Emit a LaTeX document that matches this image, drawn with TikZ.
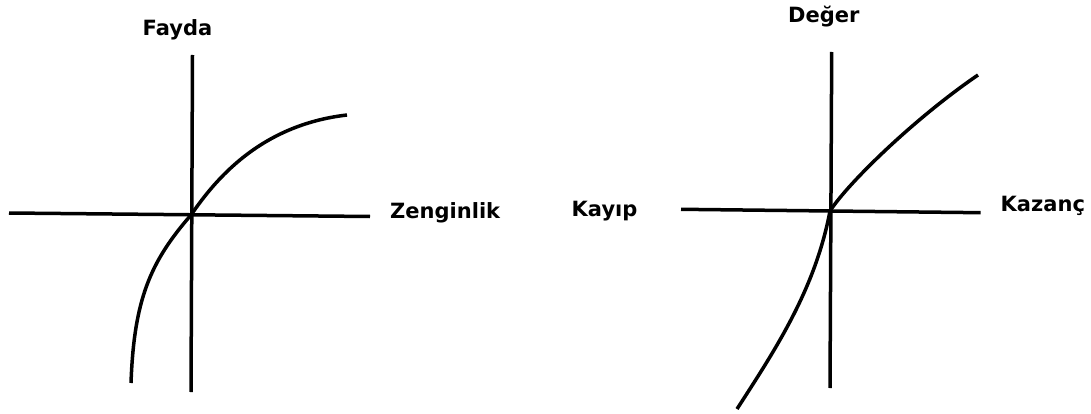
\documentclass[tikz,border=0pt]{standalone}
\usepackage{fontspec}
\setmainfont{DejaVu Sans}
\begin{document}
\begin{tikzpicture}[x=1pt,y=-1pt,
  axis/.style={line width=3.5pt},
  curve/.style={line width=3.5pt,line join=round},
  lbl/.style={anchor=base west,inner sep=0pt,font=\fontsize{21}{25}\selectfont\bfseries}]
\useasboundingbox (0,0) rectangle (1091,414);

% Utility of wealth
\coordinate (uTop) at (192.5,55);
\coordinate (uBot) at (191,392);
\coordinate (uLeft) at (9,213);
\coordinate (uRight) at (370,216.5);
\coordinate (uO) at (191,215);
\coordinate (uS) at (131,383);
\coordinate (uE) at (347,115);
\draw[axis] (uTop) -- (uBot);
\draw[axis] (uLeft) -- (uRight);
\draw[curve] (uS) .. controls (134,300) and (150,262) .. (uO)
                  .. controls (215,180) and (260,125) .. (uE);
\node[lbl] (fayda) at (142.5,36) {Fayda};
\node[lbl] (zengin) at (390,218.3) {Zenginlik};

% Value function
\coordinate (vTop) at (831.7,52);
\coordinate (vBot) at (830,388);
\coordinate (vLeft) at (681,209.3);
\coordinate (vRight) at (980.7,212.7);
\coordinate (vO) at (830,211);
\coordinate (vS) at (737,409);
\coordinate (vE) at (978,75);
\draw[axis] (vTop) -- (vBot);
\draw[axis] (vLeft) -- (vRight);
\draw[curve] (vS) .. controls (775,350) and (815,290) .. (vO)
                  .. controls (848,183) and (915,118) .. (vE);
\node[lbl] (deger) at (788,22.7) {Değer};
\node[lbl] (kayip) at (571.5,216.7) {Kayıp};
\node[lbl] (kazanc) at (1000.5,211.7) {Kazanç};
\end{tikzpicture}
\end{document}
